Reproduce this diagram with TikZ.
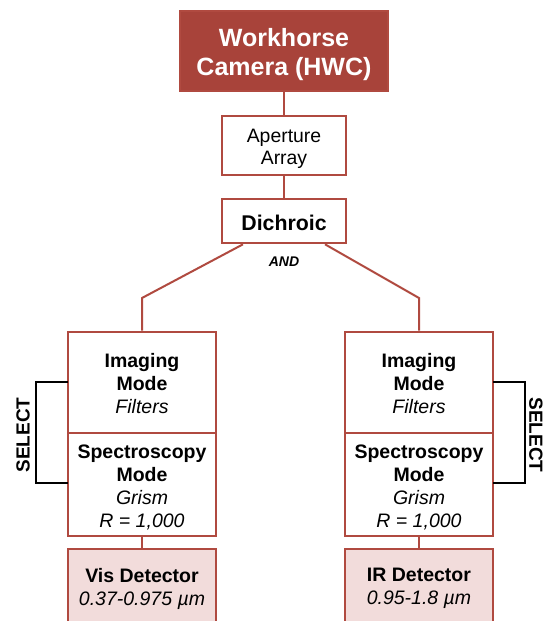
\documentclass[tikz,border=0pt]{standalone}
\usepackage{fontspec}
\setmainfont{Liberation Sans}
\definecolor{hwcred}{HTML}{A8433A}
\definecolor{hwcline}{HTML}{B04A40}
\definecolor{hwcpink}{HTML}{F2DCDB}
\begin{document}
\begin{tikzpicture}[x=1pt,y=-1pt,
  box/.style={draw=hwcline,line width=2.6pt,fill=white,inner sep=0pt},
  txt/.style={align=center,inner sep=0pt,font=\fontsize{19.5}{23}\selectfont},
  link/.style={draw=hwcline,line width=2pt},
  sel/.style={draw=black,line width=2pt},
]
\clip (0,0) rectangle (544,621);
\fill[white] (0,0) rectangle (544,621);
% top
\node[box,fill=hwcred,minimum width=208pt,minimum height=80pt,
  label={[txt,text=white,font=\fontsize{25}{29}\selectfont\bfseries,yshift=-3.5pt]center:{Workhorse\\Camera (HWC)}}] (hwc) at (284,51) {};
\node[box,minimum width=124pt,minimum height=59pt,
  label={[txt,font=\fontsize{19.4}{22}\selectfont,yshift=-3.5pt]center:{Aperture\\Array}}] (ap) at (284,145.5) {};
\node[box,minimum width=124pt,minimum height=44pt,
  label={[txt,font=\fontsize{21.3}{23}\selectfont\bfseries,yshift=-1.5pt]center:{Dichroic}}] (di) at (284,221) {};
\draw[link] (hwc.south) -- (ap.north);
\draw[link] (ap.south) -- (di.north);
\node[font=\fontsize{14}{16}\selectfont\bfseries\itshape] (and) at (284,262) {AND};
% left column
\node[box,minimum width=148pt,minimum height=101pt,
  label={[txt,yshift=-1pt]center:{\textbf{Imaging}\\\textbf{Mode}\\\textit{Filters}}}] (limg) at (142,382.5) {};
\node[box,minimum width=148pt,minimum height=103pt,
  label={[txt,yshift=-3pt]center:{\textbf{Spectroscopy}\\\textbf{Mode}\\\textit{Grism}\\\textit{R = 1,000}}}] (lspec) at (142,484.5) {};
\node[box,fill=hwcpink,minimum width=148pt,minimum height=75pt,
  label={[txt,yshift=-2pt]center:{\textbf{Vis Detector}\\\textit{0.37-0.975 µm}}}] (ldet) at (142,586.5) {};
% right column
\node[box,minimum width=148pt,minimum height=101pt,
  label={[txt,yshift=-1pt]center:{\textbf{Imaging}\\\textbf{Mode}\\\textit{Filters}}}] (rimg) at (419,382.5) {};
\node[box,minimum width=148pt,minimum height=103pt,
  label={[txt,yshift=-3pt]center:{\textbf{Spectroscopy}\\\textbf{Mode}\\\textit{Grism}\\\textit{R = 1,000}}}] (rspec) at (419,484.5) {};
\node[box,fill=hwcpink,minimum width=148pt,minimum height=75pt,
  label={[txt,yshift=-2pt]center:{\textbf{IR Detector}\\\textit{0.95-1.8 µm}}}] (rdet) at (419,586.5) {};
% connectors
\coordinate (lbend) at (142,298);
\coordinate (rbend) at (419,298);
\draw[link] ([xshift=-41pt]di.south) -- (lbend) -- (limg.north);
\draw[link] ([xshift=41pt]di.south) -- (rbend) -- (rimg.north);
\draw[link] (lspec.south) -- (ldet.north);
\draw[link] (rspec.south) -- (rdet.north);
% select brackets
\coordinate (ls1) at (36,382);
\coordinate (ls2) at (36,483);
\draw[sel] (68,382) -- (ls1) -- (ls2) -- (68,483);
\node[rotate=90,inner sep=0pt,font=\fontsize{19}{21}\selectfont\bfseries] (lsel) at (23,435) {SELECT};
\coordinate (rs1) at (525,382);
\coordinate (rs2) at (525,483);
\draw[sel] (493,382) -- (rs1) -- (rs2) -- (493,483);
\node[rotate=-90,inner sep=0pt,font=\fontsize{19}{21}\selectfont\bfseries] (rsel) at (536,435) {SELECT};
\end{tikzpicture}
\end{document}
